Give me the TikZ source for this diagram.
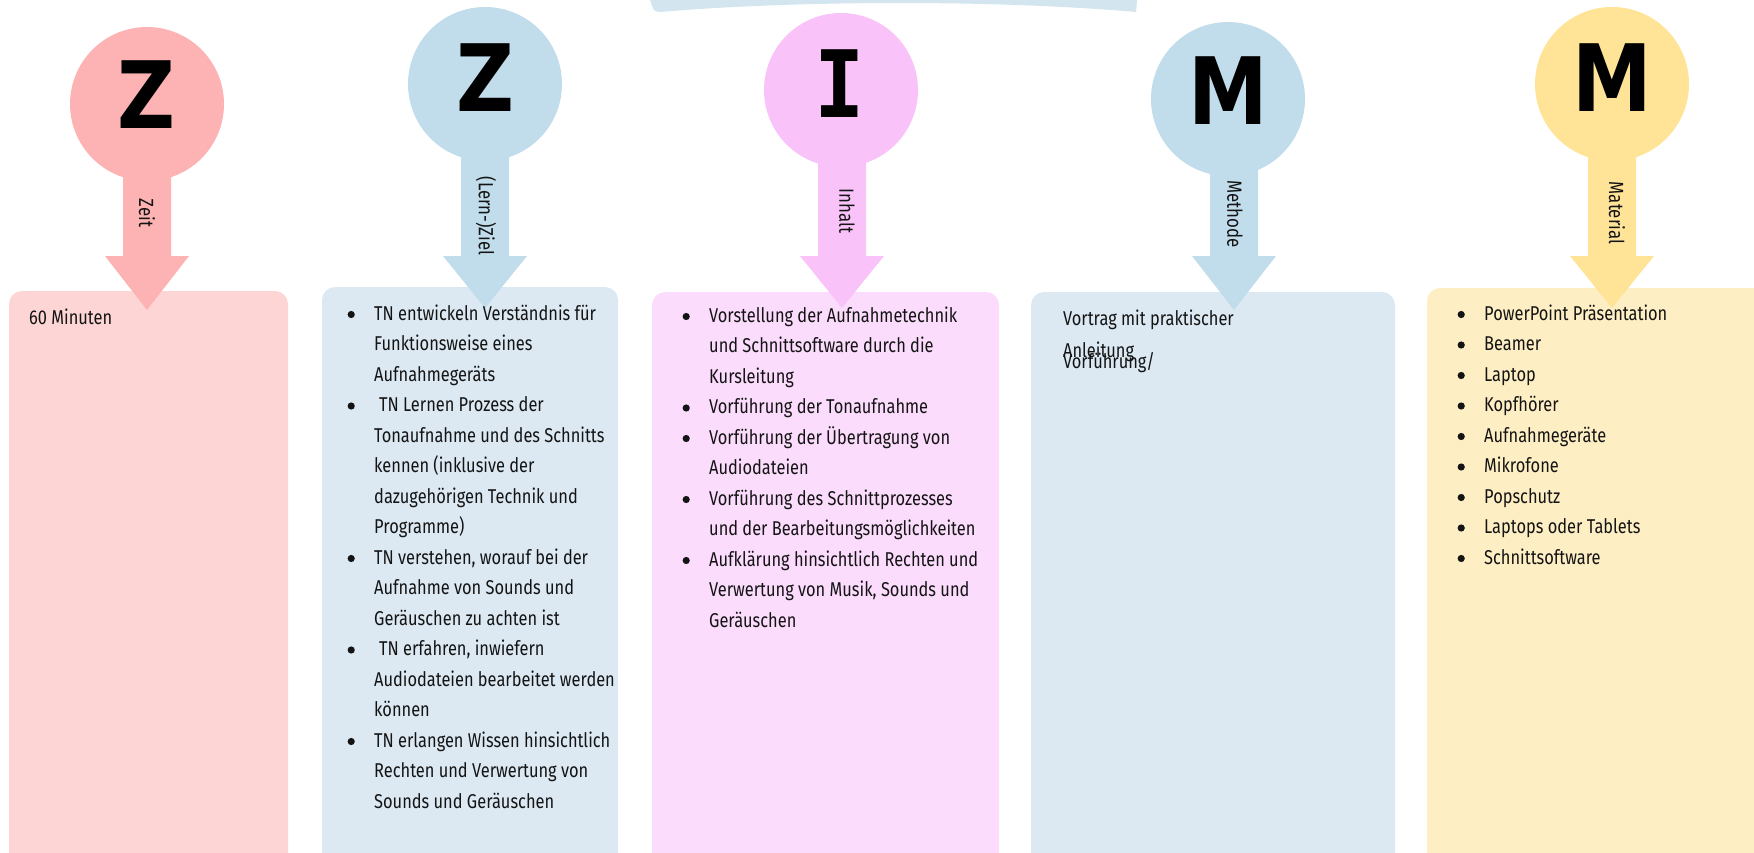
\documentclass[tikz,border=0pt]{standalone}
\usepackage{fontspec}
\setmainfont{Fira Sans}[FakeStretch=0.82]
\newfontfamily\bigfont{DejaVu Sans}[FakeStretch=0.86]
\newfontfamily\bigmono{DejaVu Sans Mono}[FakeStretch=0.9]
\definecolor{zpinkc}{HTML}{FDB3B3}
\definecolor{zpinkb}{HTML}{FDD5D5}
\definecolor{zbluec}{HTML}{C1DCEA}
\definecolor{zblueb}{HTML}{DCE9F3}
\definecolor{ipinkc}{HTML}{F9C3F9}
\definecolor{ipinkb}{HTML}{FCDCFC}
\definecolor{myelc}{HTML}{FFE497}
\definecolor{myelb}{HTML}{FEEEC4}
\definecolor{topc}{HTML}{D3E5EF}
\definecolor{textc}{HTML}{141414}
\newcommand\bu{\makebox[46pt][c]{\tikz[baseline=-5.5pt]\fill[textc] (0,0) circle (3.6pt);}}
\newcommand\drawpin[5]{% cx, cy(start), stem center x, tip y, color
  \fill[#5] (#3-24,#2) -- (#3+24,#2) -- (#3+24,256) -- (#3+42,256) -- (#3,#4) -- (#3-42,256) -- (#3-24,256) -- cycle;}
\begin{document}
\begin{tikzpicture}[x=1pt,y=-1pt,
  lettr/.style={inner sep=0pt, text=black, font=\bigfont\bfseries\fontsize{93}{93}\selectfont},
  lab/.style={inner sep=0pt, rotate=-90, text=textc, font=\fontsize{20.5}{20.5}\selectfont},
  boxc/.style={rounded corners=13pt},
  head/.style={circle, inner sep=0pt, minimum size=154pt},
  txt/.style={inner sep=0pt, anchor=base west, text=textc, font=\fontsize{20}{30.5}\selectfont},
]
\useasboundingbox (0,0) rectangle (1754,852);
\begin{scope}
\clip (0,0) rectangle (1754,852);
% top partial shape
\fill[topc] (647,-10) -- (652,6) .. controls (654,11) .. (660,12) .. controls (800,0) and (1000,0) .. (1136,12) -- (1138,-10) -- cycle;
% boxes
\fill[zpinkb, boxc] (9,291) rectangle (288,866);
\fill[zblueb, boxc] (322,287) rectangle (618,866);
\fill[ipinkb, boxc] (652,292) rectangle (999,866);
\fill[zblueb, boxc] (1031,292) rectangle (1395,866);
\fill[myelb, boxc] (1427,288) rectangle (1780,866);
% pins
\drawpin{147}{104}{147}{310}{zpinkc}
\drawpin{485}{84}{485}{308}{zbluec}
\drawpin{841}{90}{842}{308}{ipinkc}
\drawpin{1228}{99}{1234}{310}{zbluec}
\drawpin{1612}{84}{1612}{308}{myelc}
\end{scope}
% heads
\node[head, fill=zpinkc] (h1) at (147,104) {};
\node[head, fill=zbluec] (h2) at (485,84) {};
\node[head, fill=ipinkc] (h3) at (841,90) {};
\node[head, fill=zbluec] (h4) at (1228,99) {};
\node[head, fill=myelc] (h5) at (1612,84) {};
% letters
\node[lettr] (l1) at (146.5,95) {Z};
\node[lettr] (l2) at (485,78) {Z};
\node[lettr, font=\bigmono\bfseries\fontsize{93}{93}\selectfont] (l3) at (840,84) {I};
\node[lettr] (l4) at (1228,91) {M};
\node[lettr] (l5) at (1612,78) {M};
% labels
\node[lab] (t1) at (147,213) {Zeit};
\node[lab] (t2) at (486,216) {(Lern-)Ziel};
\node[lab] (t3) at (847,211) {Inhalt};
\node[lab] (t4) at (1235,214) {Methode};
\node[lab] (t5) at (1617,213) {Material};
% box texts
\node[txt] (b1) at (29,324) {60 Minuten};
\node[txt] (b2) at (328,320) {\begin{tabular}[t]{@{}l@{}l@{}}
\bu & TN entwickeln Verständnis für\\
 & Funktionsweise eines\\
 & Aufnahmegeräts\\
\bu & \hspace*{5pt}TN Lernen Prozess der\\
 & Tonaufnahme und des Schnitts\\
 & kennen (inklusive der\\
 & dazugehörigen Technik und\\
 & Programme)\\
\bu & TN verstehen, worauf bei der\\
 & Aufnahme von Sounds und\\
 & Geräuschen zu achten ist\\
\bu & \hspace*{5pt}TN erfahren, inwiefern\\
 & Audiodateien bearbeitet werden\\
 & können\\
\bu & TN erlangen Wissen hinsichtlich\\
 & Rechten und Verwertung von\\
 & Sounds und Geräuschen
\end{tabular}};
\node[txt] (b3) at (663,322) {\begin{tabular}[t]{@{}l@{}l@{}}
\bu & Vorstellung der Aufnahmetechnik\\
 & und Schnittsoftware durch die\\
 & Kursleitung\\
\bu & Vorführung der Tonaufnahme\\
\bu & Vorführung der Übertragung von\\
 & Audiodateien\\
\bu & Vorführung des Schnittprozesses\\
 & und der Bearbeitungsmöglichkeiten\\
\bu & Aufklärung hinsichtlich Rechten und\\
 & Verwertung von Musik, Sounds und\\
 & Geräuschen
\end{tabular}};
\node[txt] (b4a) at (1063,325) {Vortrag mit praktischer};
\node[txt] (b4b) at (1063,357) {Anleitung};
\node[txt] (b4c) at (1063,368) {Vorführung/};
\node[txt] (b5) at (1438,320) {\begin{tabular}[t]{@{}l@{}l@{}}
\bu & PowerPoint Präsentation\\
\bu & Beamer\\
\bu & Laptop\\
\bu & Kopfhörer\\
\bu & Aufnahmegeräte\\
\bu & Mikrofone\\
\bu & Popschutz\\
\bu & Laptops oder Tablets\\
\bu & Schnittsoftware
\end{tabular}};
\end{tikzpicture}
\end{document}
